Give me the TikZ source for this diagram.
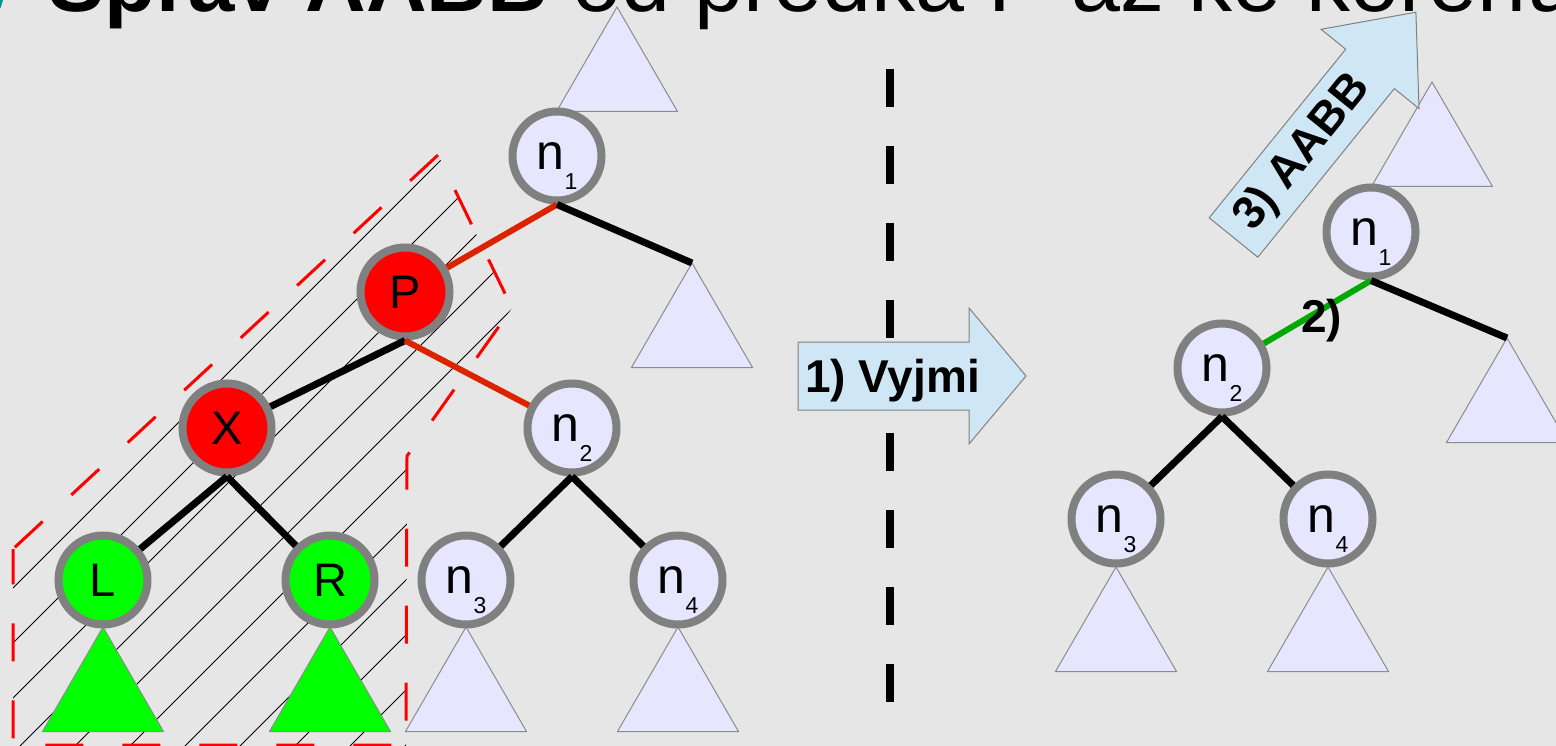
\documentclass[tikz,border=0pt]{standalone}
\usepackage{fontspec}
\setmainfont{Liberation Sans}
\definecolor{bgc}{RGB}{230,230,230}
\definecolor{lav}{RGB}{230,230,255}
\definecolor{rimc}{RGB}{128,128,128}
\definecolor{redf}{RGB}{255,0,0}
\definecolor{grnf}{RGB}{0,255,0}
\definecolor{redgec}{RGB}{220,35,0}
\definecolor{gedgec}{RGB}{0,170,0}
\definecolor{arrf}{RGB}{207,231,245}
\definecolor{trio}{RGB}{140,140,140}
\definecolor{tealc}{RGB}{0,150,150}
\newcommand\nsub[1]{\fontsize{50}{50}\selectfont n\raisebox{-20pt}[0pt][0pt]{\fontsize{23}{23}\selectfont #1}}
\newcommand\drawtri[2][]{\draw[tri,#1] (#2) -- ++(60.5,104.5) -- ++(-121,0) -- cycle;}
\tikzset{
 tn/.style={circle, draw=rimc, line width=8pt, fill=lav, minimum size=89pt, inner sep=0pt, font=\fontsize{47}{47}\selectfont},
 tri/.style={draw=trio, line width=1pt, fill=lav, line join=miter},
 bedge/.style={line width=7pt, black},
 redg/.style={line width=6pt, redgec},
 gredg/.style={line width=6pt, gedgec},
 arrowbox/.style={draw=rimc, line width=1pt, fill=arrf, line join=miter},
 lbl/.style={font=\fontsize{46}{46}\selectfont\bfseries, inner sep=0pt},
 hatchln/.style={line width=1pt, black},
 zone/.style={redf, line width=3pt, dash pattern=on 38pt off 39pt, dash phase=74.5pt},
 midline/.style={black, line width=8pt, dash pattern=on 38pt off 39pt},
}
\begin{document}
\begin{tikzpicture}[x=1pt,y=-1pt]
\useasboundingbox (0,0) rectangle (1556,746);
\clip (0,0) rectangle (1556,746);
\fill[bgc] (0,0) rectangle (1556,746);
% title (cut off at top)
\fill[tealc] (0,0) -- (3,0) -- (0.6,8) -- (0,8) -- cycle;
\node[anchor=base west, inner sep=0pt] (title) at (48.6,12)
  {\fontsize{84}{84}\selectfont\bfseries Správ AABB\fontsize{88}{88}\selectfont\mdseries{} od předka P až ke kořenu};
% hatched zone
\begin{scope}
\clip (438,155) -- (512,308) -- (407,456) -- (406,746) -- (13,746) -- (13,549) -- cycle;
\foreach \c in {601,656,...,1151} \draw[hatchln] (0,\c) -- (\c,0);
\end{scope}
\draw[zone] (13,549) -- (438,155) -- (512,308) -- (407,456) -- (406,745) -- (13,745) -- cycle;
% triangle apex coordinates
\coordinate (tA1top) at (617,7);
\coordinate (tA1r) at (692,263);
\coordinate (tA3) at (466,627);
\coordinate (tA4) at (678,627);
\coordinate (tL) at (103,627);
\coordinate (tR) at (330,627);
\coordinate (tB1top) at (1432,82);
\coordinate (tB1r) at (1507,338);
\coordinate (tB3) at (1116,567);
\coordinate (tB4) at (1328,567);
\drawtri{tA1top}
\drawtri{tA1r}
\drawtri{tA3}
\drawtri{tA4}
\drawtri[fill=grnf]{tL}
\drawtri[fill=grnf]{tR}
\drawtri{tB1top}
\drawtri{tB1r}
\drawtri{tB3}
\drawtri{tB4}
% left tree
\node[tn] (a1) at (557,156) {\nsub{1}};
\node[tn, fill=redf] (aP) at (405,292) {P};
\node[tn, fill=redf] (aX) at (227,428) {X};
\node[tn, fill=grnf] (aL) at (103,580) {L};
\node[tn, fill=grnf] (aR) at (330,580) {R};
\node[tn] (a2) at (572,428) {\nsub{2}};
\node[tn] (a3) at (466,580) {\nsub{3}};
\node[tn] (a4) at (678,580) {\nsub{4}};
\draw[redg] (a1.south) -- (aP);
\draw[bedge] (a1.south) -- (tA1r);
\draw[bedge] (aP.south) -- (aX);
\draw[redg] (aP.south) -- (a2);
\draw[bedge] (aX.south) -- (aL);
\draw[bedge] (aX.south) -- (aR);
\draw[bedge] (a2.south) -- (a3);
\draw[bedge] (a2.south) -- (a4);
% right tree
\node[tn] (b1) at (1371,232) {\nsub{1}};
\node[tn] (b2) at (1222,368) {\nsub{2}};
\node[tn] (b3) at (1116,519) {\nsub{3}};
\node[tn] (b4) at (1328,519) {\nsub{4}};
\draw[gredg] (b1.south) -- (b2);
\draw[bedge] (b1.south) -- (tB1r);
\draw[bedge] (b2.south) -- (b3);
\draw[bedge] (b2.south) -- (b4);
\node[lbl, anchor=base west] (step2) at (1301,332) {2)};
% middle dashed separator
\coordinate (dtop) at (890,69);
\coordinate (dm1) at (890,340);
\coordinate (dm2) at (890,433);
\coordinate (dbot) at (890,707);
\draw[midline] (dtop) -- (dm1);
\draw[midline] (dm2) -- (dbot);
% arrow 1) Vyjmi
\draw[arrowbox] (798,342) -- (969,342) -- (969,308) -- (1026,376) -- (969,444) -- (969,410) -- (798,410) -- cycle;
\node[lbl, anchor=base west] (vyjmi) at (805,392) {1) Vyjmi};
% arrow 3) AABB
\draw[arrowbox] (1209.2,217.8) -- (1345.7,49.2) -- (1321.1,29.3) -- (1415.9,12.2) -- (1419,108.5) -- (1394.3,88.6) -- (1257.8,257.2) -- cycle;
\node[lbl, rotate=51] (aabb) at (1303,153) {3) AABB};
\end{tikzpicture}
\end{document}
